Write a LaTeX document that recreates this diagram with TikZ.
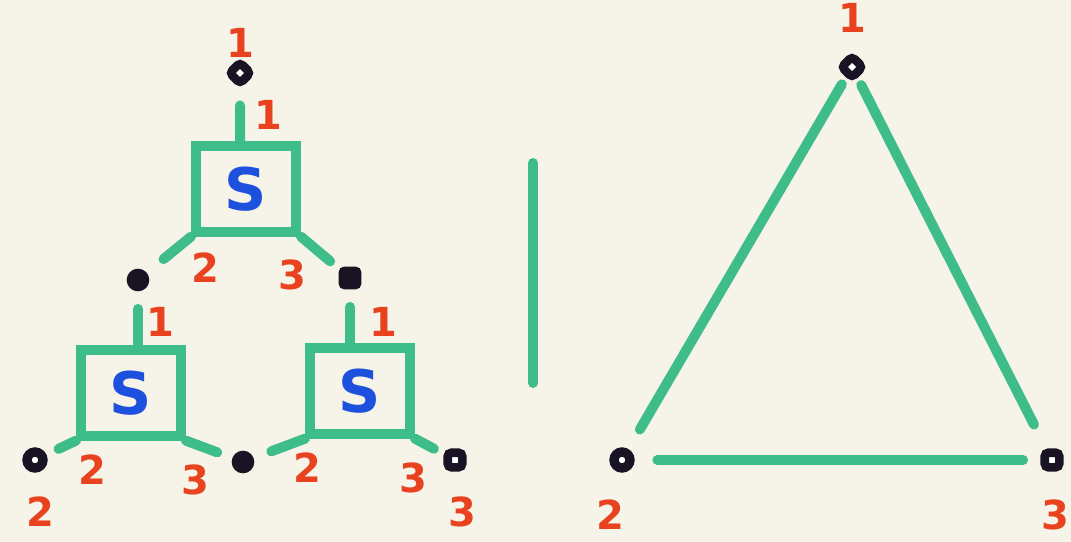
\documentclass[tikz,border=0pt]{standalone}
\usepackage{tikz}
\usetikzlibrary{positioning}
\usepackage{xcolor}
\usepackage{fontspec}
\setsansfont{DejaVu Sans}

\definecolor{paper}{RGB}{246,243,233}
\definecolor{marker}{RGB}{62,188,138}
\definecolor{redink}{RGB}{232,66,30}
\definecolor{blueink}{RGB}{30,80,222}
\definecolor{blackink}{RGB}{24,20,36}

\tikzset{
  stroke/.style={color=marker, line width=7.5pt, line cap=round},
  sbox/.style={draw=marker, line width=7.5pt, minimum width=75pt, minimum height=64pt, inner sep=0pt, text=blueink, font=\fontsize{44}{44}\selectfont\sffamily\bfseries},
  holedot/.style={circle, draw=blackink, fill=white, line width=7pt, minimum size=12pt, inner sep=0pt},
  fulldot/.style={circle, fill=blackink, minimum size=17pt, inner sep=0pt},
  holesq/.style={rectangle, rounded corners=3pt, draw=blackink, fill=white, line width=6.5pt, minimum size=11pt, inner sep=0pt},
  fullsq/.style={rectangle, rounded corners=4pt, fill=blackink, minimum size=17pt, inner sep=0pt},
  num/.style={text=redink, inner sep=0pt, font=\fontsize{30}{30}\selectfont\sffamily\bfseries},
}

\begin{document}
\begin{tikzpicture}[x=0.75pt,y=0.75pt,yscale=-1,xscale=1]
%Shape: Paper
\fill [paper] (0,0) rectangle (1071,542) ;
\useasboundingbox (0,0) rectangle (1071,542) ;

%Shape: Boxes
\node [sbox] (stop) at (246,189) {S};
\node [sbox] (sleft) at (131,393) {S};
\node [sbox] (sright) at (360,391) {S};

%Shape: Terminals
\node [holesq, rotate=45] (ttop) at (240,73) {};
\node [fulldot] (tmidl) at (138,280) {};
\node [fullsq] (tmidr) at (350,278) {};
\node [holedot] (tbotl) at (35,460) {};
\node [fulldot] (tbotm) at (243,462) {};
\node [holesq] (tbotr) at (455,460) {};

%Straight Lines: top box
\draw [stroke, shorten <=12pt] (ttop) -- (ttop |- stop.north) ;
\draw [stroke, shorten >=16pt] (stop.south west) -- (tmidl) ;
\draw [stroke, shorten >=8pt] (stop.south east) -- (tmidr) ;
%Straight Lines: left box
\draw [stroke, shorten <=13pt] (tmidl) -- (tmidl |- sleft.north) ;
\draw [stroke, shorten >=10pt] (sleft.south west) -- (tbotl) ;
\draw [stroke, shorten >=12pt] (sleft.south east) -- (tbotm) ;
%Straight Lines: right box
\draw [stroke, shorten <=13pt] (tmidr) -- (tmidr |- sright.north) ;
\draw [stroke, shorten >=14pt] (sright.south west) -- (tbotm) ;
\draw [stroke, shorten >=8pt] (sright.south east) -- (tbotr) ;

%Straight Lines: bar
\coordinate (bartop) at (533,163) ;
\coordinate (barbot) at (533,383) ;
\draw [stroke] (bartop) -- (barbot) ;

%Shape: Triangle
\node [holesq, rotate=45] (ta) at (852,67) {};
\node [holedot] (tb) at (622,460) {};
\node [holesq] (tc) at (1052,460) {};
\draw [stroke, shorten <=6pt, shorten >=17pt] (ta) -- (tb) ;
\draw [stroke, shorten <=6pt, shorten >=20pt] (ta) -- (tc) ;
\draw [stroke, shorten <=17pt, shorten >=13pt] (tb) -- (tc) ;

% Text Node
\node [num] (ltop) at (240,43) {1};
% Text Node
\node [num] (ltopa) at (268,115) {1};
% Text Node
\node [num] (ltopb) at (205,268) {2};
% Text Node
\node [num] (ltopc) at (292,275) {3};
% Text Node
\node [num] (lleft) at (160,322) {1};
% Text Node
\node [num] (lleftb) at (92,470) {2};
% Text Node
\node [num] (lleftc) at (195,480) {3};
% Text Node
\node [num] (lright) at (383,322) {1};
% Text Node
\node [num] (lrightb) at (307,468) {2};
% Text Node
\node [num] (lrightc) at (413,478) {3};
% Text Node
\node [num] (lout2) at (40,512) {2};
% Text Node
\node [num] (lout3) at (462,512) {3};
% Text Node
\node [num] (la) at (852,18) {1};
% Text Node
\node [num] (lb) at (610,515) {2};
% Text Node
\node [num] (lc) at (1055,515) {3};

\end{tikzpicture}
\end{document}
